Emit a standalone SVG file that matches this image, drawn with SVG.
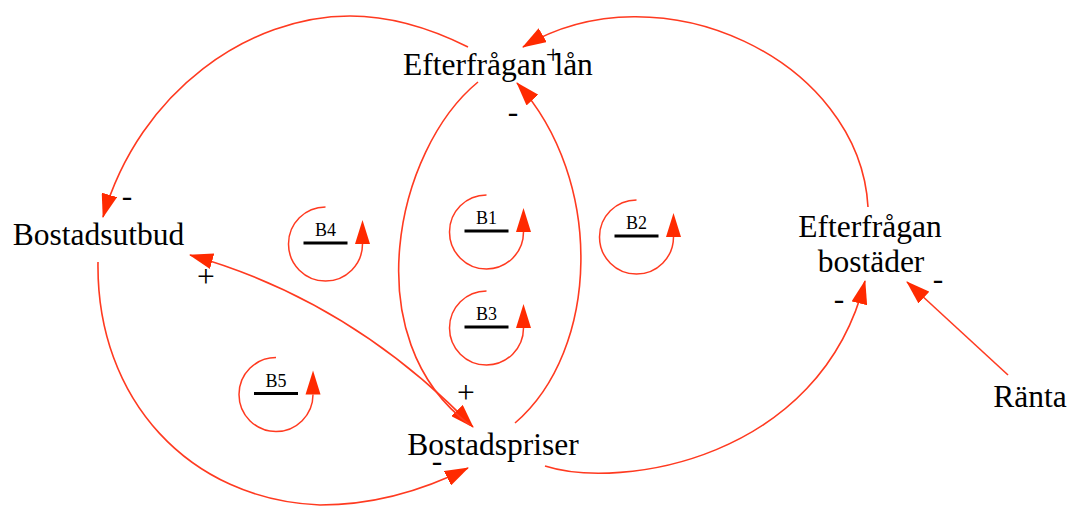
<svg xmlns="http://www.w3.org/2000/svg" width="1067" height="506" viewBox="0 0 1067 506">
<style>
.node{font-family:"Liberation Serif","Times New Roman",serif;font-size:31.5px;fill:#000;text-anchor:middle}
.sign{font-family:"Liberation Serif","Times New Roman",serif;font-size:31.5px;fill:#000;text-anchor:middle}
.conn{fill:none;stroke:#ff3a20;stroke-width:1.6}
.loop{fill:none;stroke:#ff3a20;stroke-width:1.5}
.head{fill:#ff2a00}
.bar{stroke:#000;stroke-width:3}
.lbl{font-family:"Liberation Serif","Times New Roman",serif;font-size:18px;fill:#000;text-anchor:middle}
</style>
<defs>
<marker id="arr" viewBox="0 0 24 16" refX="23" refY="8" markerWidth="24" markerHeight="16" markerUnits="userSpaceOnUse" orient="auto-start-reverse">
<path d="M0,0 L24,8 L0,16 z" fill="#ff2a00"/>
</marker>
</defs>
<rect width="1067" height="506" fill="#fff"/>
<g id="connectors">
<path class="conn" d="M468,47 C430,28 390,16 350,16 C250,16 140,90 103,217" marker-end="url(#arr)"/>
<path class="conn" d="M98,262 C96,400 190,500 320,505 C380,505 430,487 468,468" marker-end="url(#arr)"/>
<path class="conn" d="M190,255 Q350,300 473,427" marker-start="url(#arr)" marker-end="url(#arr)"/>
<path class="conn" d="M478,82 C395,150 355,340 470,425"/>
<path class="conn" d="M515,423 C600,350 605,180 517,83" marker-end="url(#arr)"/>
<path class="conn" d="M868,207 C860,60 660,-35 523,47" marker-end="url(#arr)"/>
<path class="conn" d="M545,466 C620,490 820,460 865,281" marker-end="url(#arr)"/>
<path class="conn" d="M1008,375 L907,282" marker-end="url(#arr)"/>
</g>
<g id="polarities">
<text class="sign" x="553" y="63" style="font-size:26px">+</text>
<text class="sign" x="513" y="122">-</text>
<text class="sign" x="127" y="206">-</text>
<text class="sign" x="206" y="287">+</text>
<text class="sign" x="466" y="403">+</text>
<text class="sign" x="437" y="471">-</text>
<text class="sign" x="839" y="309">-</text>
<text class="sign" x="938" y="289">-</text>
</g>
<g id="node-efterfragan-lan"><text class="node" x="498" y="75">Efterfrågan lån</text></g>
<g id="node-bostadsutbud"><text class="node" x="98.5" y="245">Bostadsutbud</text></g>
<g id="node-bostadspriser"><text class="node" x="493" y="455">Bostadspriser</text></g>
<g id="node-efterfragan-bostader"><text class="node" x="870" y="237">Efterfrågan</text><text class="node" x="871" y="272">bostäder</text></g>
<g id="node-ranta"><text class="node" x="1030" y="407">Ränta</text></g>
<g id="loop-B1">
<path class="loop" d="M486.5,195 A37,37 0 1 0 523.5,232"/>
<polygon class="head" points="523.5,208 516,232 531,232"/>
<line class="bar" x1="464.5" y1="231" x2="508.5" y2="231"/>
<text class="lbl" x="486.5" y="224">B1</text>
</g>
<g id="loop-B2">
<path class="loop" d="M636.5,200 A37,37 0 1 0 673.5,237"/>
<polygon class="head" points="673.5,213 666,237 681,237"/>
<line class="bar" x1="614.5" y1="236" x2="658.5" y2="236"/>
<text class="lbl" x="636.5" y="229">B2</text>
</g>
<g id="loop-B3">
<path class="loop" d="M486.5,291 A37,37 0 1 0 523.5,328"/>
<polygon class="head" points="523.5,304 516,328 531,328"/>
<line class="bar" x1="464.5" y1="327" x2="508.5" y2="327"/>
<text class="lbl" x="486.5" y="320">B3</text>
</g>
<g id="loop-B4">
<path class="loop" d="M325.5,207 A37,37 0 1 0 362.5,244"/>
<polygon class="head" points="362.5,220 355,244 370,244"/>
<line class="bar" x1="303.5" y1="243" x2="347.5" y2="243"/>
<text class="lbl" x="325.5" y="236">B4</text>
</g>
<g id="loop-B5">
<path class="loop" d="M276,357.5 A37,37 0 1 0 313,394.5"/>
<polygon class="head" points="313,370.5 305.5,394.5 320.5,394.5"/>
<line class="bar" x1="254" y1="393.5" x2="298" y2="393.5"/>
<text class="lbl" x="276" y="386.5">B5</text>
</g>
</svg>
